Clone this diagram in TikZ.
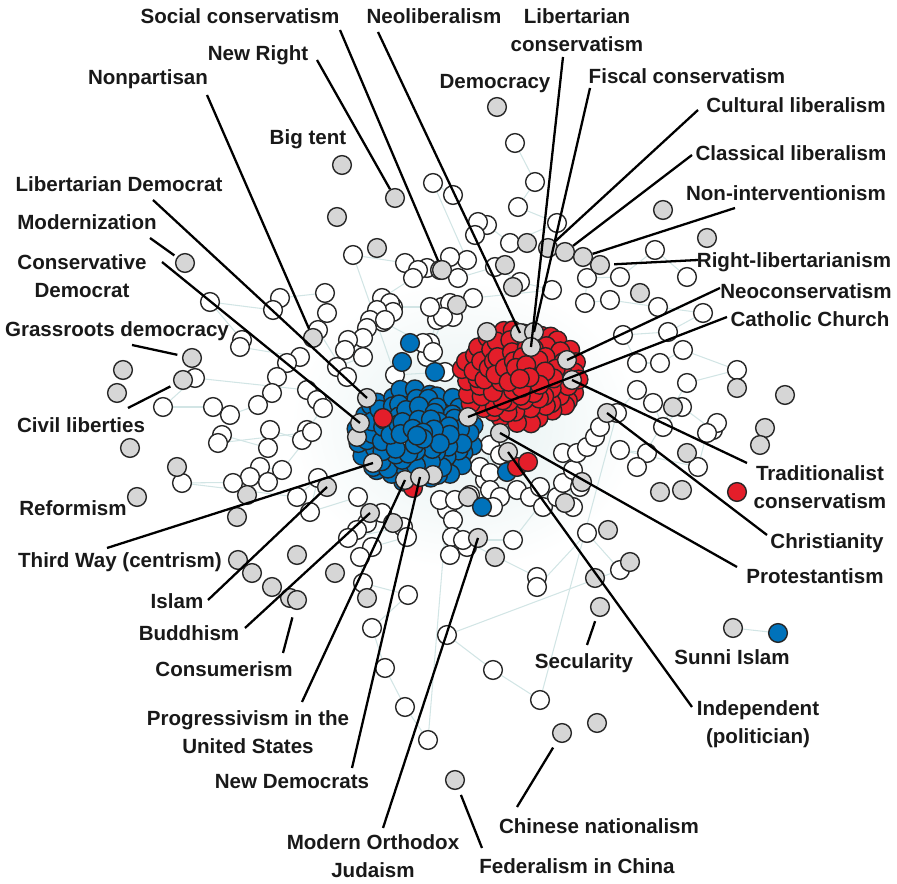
\documentclass[tikz,border=0pt]{standalone}
\usepackage{fontspec}
\setmainfont{Liberation Sans}
\pgfdeclarelayer{bg}
\pgfsetlayers{bg,main}
\definecolor{netred}{RGB}{228,30,42}
\definecolor{netblue}{RGB}{0,114,187}
\definecolor{netgrey}{RGB}{214,214,214}
\definecolor{netedge}{RGB}{210,229,229}
\definecolor{nethalo}{RGB}{228,240,240}
\definecolor{ink}{RGB}{25,25,25}
\begin{document}
\begin{tikzpicture}[
		x = 0.02cm, y = -0.02cm,
		dot/.style = {
			circle,
			draw = black!85,
			line width = 0.8pt,
			minimum size = 0.375cm,
			inner sep = 0pt
		},
		wnode/.style = {dot, fill = white},
		gnode/.style = {dot, fill = netgrey},
		rnode/.style = {dot, fill = netred},
		bnode/.style = {dot, fill = netblue},
		lab/.style = {
			text = ink,
			inner sep = 0pt,
			align = center,
			font = \fontsize{11.7}{15.6}\selectfont\bfseries
		},
		leader/.style = {draw = black, line width = 1.3pt},
		web/.style = {draw = netedge, line width = 0.6pt}
	]
	\useasboundingbox (0,0) rectangle (897,884);
	\begin{pgfonlayer}{bg}
		\shade[inner color = nethalo, outer color = white] (465,425) ellipse (175 and 145);
	\end{pgfonlayer}
	% white nodes, chained by faint edges
	\foreach \x/\y [count=\i, remember=\i as \p (initially 1)] in {
		515/143, 535/182, 518/207, 557/223, 510/243, 487/225, 478/222, 475/235, 453/195, 433/183,
		467/260, 450/257, 427/268, 458/278, 495/267, 520/282, 552/290, 473/298, 442/307, 453/317,
		437/320, 430/343, 427/357, 450/303, 443/317, 430/307, 393/307, 383/322, 423/343, 433/352,
		445/372, 395/375, 353/255, 405/263, 418/270, 413/278, 382/298, 390/303, 393/312, 377/310,
		370/320, 385/320, 367/328, 363/338, 348/340, 345/350, 363/357, 337/367, 347/377, 318/330,
		327/313, 325/293, 280/298, 273/310, 210/302, 242/340, 240/347, 300/357, 287/363, 277/377,
		272/393, 258/405, 230/415, 213/407, 163/407, 195/378, 307/390, 317/400, 323/408, 307/430,
		302/440, 270/430, 268/448, 222/435, 218/443, 312/432, 282/470, 260/467, 250/477, 233/483,
		268/482, 182/483, 297/497, 318/478, 310/512, 358/497, 382/513, 367/523, 357/530, 348/538,
		403/527, 407/537, 372/547, 360/557, 363/583, 408/595, 372/628, 385/668, 405/707, 428/740,
		447/510, 453/520, 452/537, 450/555, 467/547, 440/500, 455/500, 470/495, 485/480, 490/445,
		500/455, 480/467, 490/473, 490/490, 500/497, 493/507, 517/490, 530/497, 540/487, 543/507,
		557/497, 563/483, 573/470, 580/487, 573/507, 563/453, 577/453, 587/447, 595/437, 600/427,
		513/540, 463/540, 537/577, 537/587, 587/533, 620/570, 447/635, 493/670, 540/700, 617/413,
		637/390, 653/403, 663/427, 682/407, 713/430, 717/423, 707/433, 698/467, 620/450, 647/453,
		637/467, 687/383, 737/370, 683/350, 660/363, 637/363, 623/335, 668/332, 703/313, 658/307,
		610/300, 585/303, 587/278, 620/277, 655/250, 687/277} {
		\node[wnode] (w\i) at (\x,\y) {};
		\ifnum\i>1 \begin{pgfonlayer}{bg}\draw[web] (w\p) -- (w\i);\end{pgfonlayer}\fi
	}
	% grey nodes without labels
	\foreach \x/\y [count=\i] in {
		337/217, 377/248, 527/243, 505/265, 513/287, 440/270, 457/305, 640/293, 663/210, 707/238,
		737/388, 785/395, 765/428, 760/445, 673/407, 687/453, 660/492, 682/490, 582/482, 565/503,
		608/530, 630/562, 595/578, 123/370, 117/393, 130/448, 177/467, 247/495, 237/517, 297/555,
		238/560, 252/573, 272/587, 290/598, 335/573, 367/598, 393/523, 468/497, 495/557, 597/723}
		\node[gnode] (g\i) at (\x,\y) {};
	% blue cluster
	\foreach \f/\n/\o [count=\j] in {1/28/0, .8/22/8, .6/17/3, .4/11/15, .2/5/30, 0/1/0}
		\foreach \k in {1,...,\n}
			\node[bnode] (b\j-\k) at ({415+\f*57*cos(360*\k/\n+\o)+3*sin(137*\k)}, {436+\f*45*sin(360*\k/\n+\o)+3*cos(97*\k)}) {};
	% red cluster
	\foreach \f/\n/\o [count=\j] in {1/28/5, .8/22/12, .6/17/0, .4/11/20, .2/5/10, 0/1/0}
		\foreach \k in {1,...,\n}
			\node[rnode] (r\j-\k) at ({521+\f*57*cos(360*\k/\n+\o)+3*cos(113*\k)}, {376+\f*45*sin(360*\k/\n+\o)+3*sin(71*\k)}) {};
	% stray coloured nodes
	\foreach \x/\y [count=\i] in {410/343, 402/362, 435/372, 507/472, 482/507}
		\node[bnode] (bx\i) at (\x,\y) {};
	\foreach \x/\y [count=\i] in {413/488, 383/418, 517/467, 528/462}
		\node[rnode] (rx\i) at (\x,\y) {};
	\foreach \x/\y [count=\i] in {487/332, 357/437, 433/475}
		\node[gnode] (gc\i) at (\x,\y) {};
	% labelled nodes
	\node[gnode] (democracy) at (497,107) {};
	\node[gnode] (bigtent) at (342,165) {};
	\node[gnode] (newright) at (395,198) {};
	\node[gnode] (socialcons) at (442,270) {};
	\node[gnode] (modern) at (185,263) {};
	\node[gnode] (nonpartisan) at (313,338) {};
	\node[gnode] (grassroots) at (192,358) {};
	\node[gnode] (civil) at (183,380) {};
	\node[gnode] (libdem) at (367,398) {};
	\node[gnode] (consdem) at (360,423) {};
	\node[gnode] (reformism) at (137,497) {};
	\node[gnode] (thirdway) at (373,463) {};
	\node[gnode] (islam) at (327,487) {};
	\node[gnode] (buddhism) at (370,513) {};
	\node[gnode] (consumerism) at (297,600) {};
	\node[gnode] (prog) at (405,480) {};
	\node[gnode] (newdem) at (420,477) {};
	\node[gnode] (orthodox) at (478,538) {};
	\node[gnode] (federalism) at (455,780) {};
	\node[gnode] (chinese) at (562,733) {};
	\node[gnode] (secularity) at (600,607) {};
	\node[gnode] (indep) at (508,452) {};
	\node[gnode] (prot) at (500,433) {};
	\node[gnode] (christ) at (607,413) {};
	\node[gnode] (trad) at (572,380) {};
	\node[gnode] (catholic) at (468,417) {};
	\node[gnode] (neocons) at (567,360) {};
	\node[gnode] (neolib) at (520,333) {};
	\node[gnode] (fiscal) at (534,332) {};
	\node[gnode] (libcons) at (531,347) {};
	\node[gnode] (cultural) at (548,248) {};
	\node[gnode] (classical) at (565,252) {};
	\node[gnode] (nonint) at (583,257) {};
	\node[gnode] (rightlib) at (600,265) {};
	\node[gnode] (sunni) at (733,628) {};
	\node[bnode] (sunniblue) at (778,633) {};
	\node[rnode] (tradred) at (737,492) {};
	\begin{pgfonlayer}{bg}
		\draw[web] (sunni) -- (sunniblue);
	\end{pgfonlayer}
	% labels
	\node[lab] (l-socialcons) at (240,16) {Social conservatism};
	\node[lab] (l-neolib) at (434,16) {Neoliberalism};
	\node[lab] (l-libcons) at (577,30) {Libertarian\\conservatism};
	\node[lab] (l-newright) at (258,55) {New Right};
	\node[lab] (l-nonpartisan) at (148,79) {Nonpartisan};
	\node[lab] (l-democracy) at (495,84) {Democracy};
	\node[lab] (l-fiscal) at (687,76) {Fiscal conservatism};
	\node[lab] (l-cultural) at (796,105) {Cultural liberalism};
	\node[lab] (l-bigtent) at (308,139) {Big tent};
	\node[lab] (l-classical) at (791,153) {Classical liberalism};
	\node[lab] (l-libdem) at (119,184) {Libertarian Democrat};
	\node[lab] (l-nonint) at (786,193) {Non-interventionism};
	\node[lab] (l-modern) at (87,222) {Modernization};
	\node[lab] (l-rightlib) at (794,262) {Right-libertarianism};
	\node[lab] (l-consdem) at (82,276) {Conservative\\Democrat};
	\node[lab] (l-neocons) at (806,291) {Neoconservatism};
	\node[lab] (l-catholic) at (810,319) {Catholic Church};
	\node[lab] (l-grassroots) at (117,331) {Grassroots democracy};
	\node[lab] (l-civil) at (81,425) {Civil liberties};
	\node[lab] (l-trad) at (820,487) {Traditionalist\\conservatism};
	\node[lab] (l-reformism) at (73,508) {Reformism};
	\node[lab] (l-christ) at (827,543) {Christianity};
	\node[lab] (l-thirdway) at (120,562) {Third Way (centrism)};
	\node[lab] (l-prot) at (815,576) {Protestantism};
	\node[lab] (l-islam) at (177,601) {Islam};
	\node[lab] (l-buddhism) at (189,633) {Buddhism};
	\node[lab] (l-sunni) at (732,657) {Sunni Islam};
	\node[lab] (l-secularity) at (584,663) {Secularity};
	\node[lab] (l-consumerism) at (224,669) {Consumerism};
	\node[lab] (l-indep) at (758,724) {Independent\\(politician)};
	\node[lab] (l-prog) at (248,732) {Progressivism in the\\United States};
	\node[lab] (l-newdem) at (292,782) {New Democrats};
	\node[lab] (l-chinese) at (599,826) {Chinese nationalism};
	\node[lab] (l-orthodox) at (373,856) {Modern Orthodox\\Judaism};
	\node[lab] (l-federalism) at (577,866) {Federalism in China};
	% leader ends beside the labels
	\coordinate (a-socialcons) at (340,30);
	\coordinate (a-neolib) at (378,32);
	\coordinate (a-libcons) at (563,57);
	\coordinate (a-fiscal) at (590,88);
	\coordinate (a-newright) at (317,60);
	\coordinate (a-nonpartisan) at (207,95);
	\coordinate (a-libdem) at (153,200);
	\coordinate (a-modern) at (150,238);
	\coordinate (a-consdem) at (162,262);
	\coordinate (a-grassroots) at (132,345);
	\coordinate (a-civil) at (128,408);
	\coordinate (a-cultural) at (698,110);
	\coordinate (a-classical) at (692,155);
	\coordinate (a-nonint) at (735,208);
	\coordinate (a-rightlib) at (698,260);
	\coordinate (a-neocons) at (720,288);
	\coordinate (a-catholic) at (727,317);
	\coordinate (a-trad) at (747,463);
	\coordinate (a-christ) at (767,535);
	\coordinate (a-prot) at (737,567);
	\coordinate (a-indep) at (692,707);
	\coordinate (a-secularity) at (587,645);
	\coordinate (a-chinese) at (517,807);
	\coordinate (a-federalism) at (482,848);
	\coordinate (a-orthodox) at (383,828);
	\coordinate (a-newdem) at (352,768);
	\coordinate (a-prog) at (302,702);
	\coordinate (a-consumerism) at (283,653);
	\coordinate (a-buddhism) at (245,628);
	\coordinate (a-islam) at (208,600);
	\coordinate (a-thirdway) at (107,548);
	% leader lines
	\draw[leader] (a-socialcons) -- (socialcons);
	\draw[leader] (a-neolib) -- (neolib.center);
	\draw[leader] (a-libcons) -- (libcons.center);
	\draw[leader] (a-fiscal) -- (fiscal.center);
	\draw[leader] (a-newright) -- (newright);
	\draw[leader] (a-nonpartisan) -- (nonpartisan);
	\draw[leader] (a-libdem) -- (libdem.center);
	\draw[leader, shorten > = 1.7pt] (a-modern) -- (modern);
	\draw[leader] (a-consdem) -- (consdem.center);
	\draw[leader, shorten > = 2.8pt] (a-grassroots) -- (grassroots);
	\draw[leader, shorten > = 2.3pt] (a-civil) -- (civil);
	\draw[leader] (a-cultural) -- (cultural);
	\draw[leader] (a-classical) -- (classical);
	\draw[leader] (a-nonint) -- (nonint);
	\draw[leader, shorten > = 2.3pt] (a-rightlib) -- (rightlib);
	\draw[leader] (a-neocons) -- (neocons.center);
	\draw[leader] (a-catholic) -- (catholic.center);
	\draw[leader] (a-trad) -- (trad.center);
	\draw[leader] (a-christ) -- (christ.center);
	\draw[leader] (a-prot) -- (prot.center);
	\draw[leader] (a-indep) -- (indep.center);
	\draw[leader, shorten > = 2.8pt] (a-secularity) -- (secularity);
	\draw[leader, shorten > = 4pt] (a-chinese) -- (chinese);
	\draw[leader, shorten > = 3.4pt] (a-federalism) -- (federalism);
	\draw[leader] (a-orthodox) -- (orthodox.center);
	\draw[leader] (a-newdem) -- (newdem.center);
	\draw[leader] (a-prog) -- (prog.center);
	\draw[leader, shorten > = 4.5pt] (a-consumerism) -- (consumerism);
	\draw[leader] (a-buddhism) -- (buddhism.center);
	\draw[leader] (a-islam) -- (islam.center);
	\draw[leader] (a-thirdway) -- (thirdway.center);
\end{tikzpicture}
\end{document}
